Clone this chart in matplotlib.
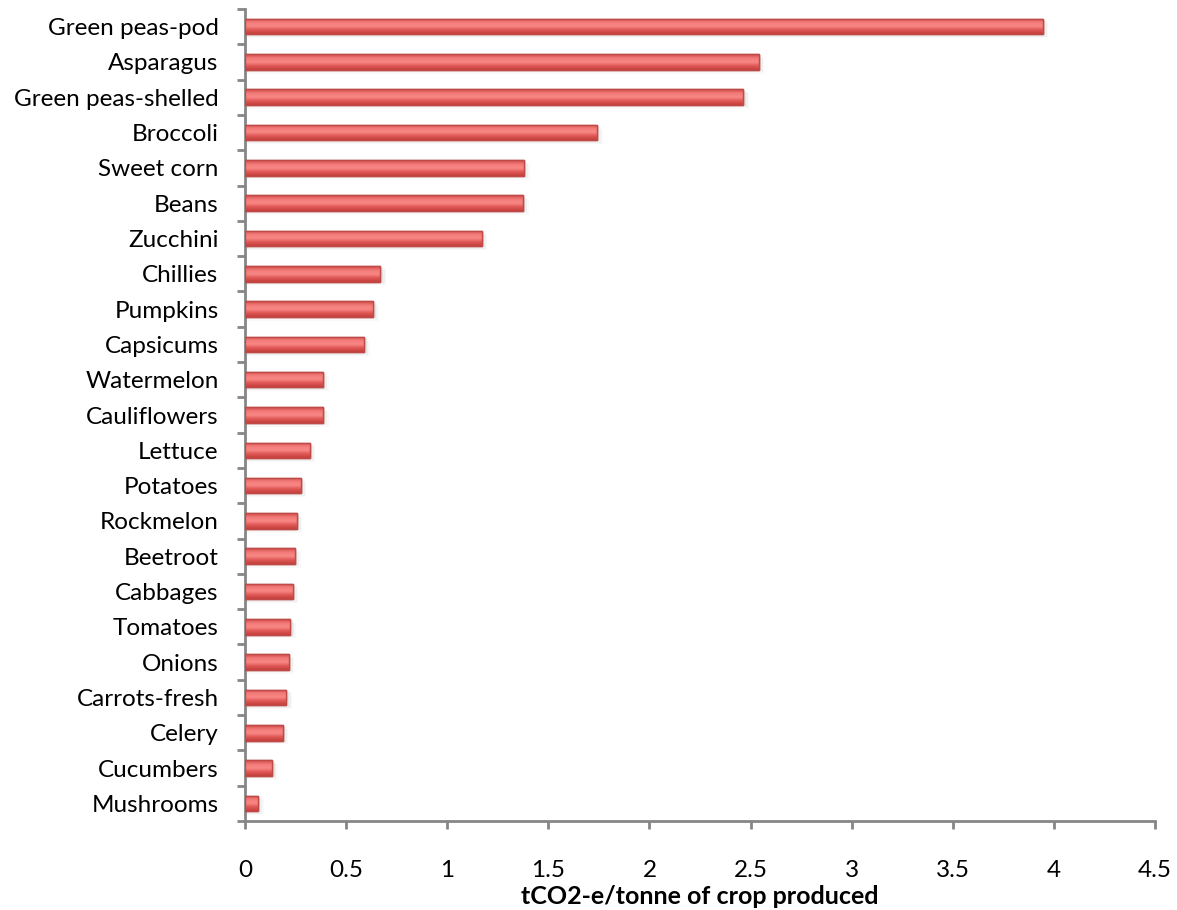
import numpy as np
import matplotlib.pyplot as plt
from matplotlib.colors import LinearSegmentedColormap

# crops, top to bottom as in the chart
crops = ["Green peas-pod", "Asparagus", "Green peas-shelled", "Broccoli",
         "Sweet corn", "Beans", "Zucchini", "Chillies", "Pumpkins",
         "Capsicums", "Watermelon", "Cauliflowers", "Lettuce", "Potatoes",
         "Rockmelon", "Beetroot", "Cabbages", "Tomatoes", "Onions",
         "Carrots-fresh", "Celery", "Cucumbers", "Mushrooms"]
emissions = [3.945, 2.54, 2.465, 1.74, 1.38, 1.375, 1.17, 0.67, 0.635,
             0.59, 0.386, 0.385, 0.32, 0.276, 0.256, 0.247, 0.236, 0.224,
             0.216, 0.205, 0.187, 0.134, 0.064]
xticks = [0, 0.5, 1, 1.5, 2, 2.5, 3, 3.5, 4, 4.5]

plt.rcParams['font.family'] = ['Lato', 'DejaVu Sans']

fig = plt.figure(figsize=(11.77, 9.10), dpi=100)
ax = fig.add_axes([245 / 1177, 1 - 821 / 910, 910 / 1177, 812 / 910])

n = len(crops)
ypos = np.arange(n)[::-1]
bar_h = 0.44

bars = ax.barh(ypos, emissions, height=bar_h, color='#D9534F',
               edgecolor='#BE4B48', linewidth=1.0, zorder=3)

# soft shadow under each bar
for b in bars:
    x0, y0 = b.get_x(), b.get_y()
    w, h = b.get_width(), b.get_height()
    for k, a in enumerate([0.10, 0.07, 0.04]):
        ax.add_patch(plt.Rectangle((x0, y0 - 0.03 - 0.04 * k), w + 0.012 + 0.008 * k,
                                   h, facecolor='#7f7f7f', alpha=a,
                                   edgecolor='none', zorder=2))

# vertical gradient fill (light top, darker bottom)
cmap = LinearSegmentedColormap.from_list(
    'redgrad', ['#C4403D', '#DE5754', '#F98886', '#F27A78', '#D04946'])
grad = np.linspace(0, 1, 64).reshape(-1, 1)
for b in bars:
    x0, y0 = b.get_x(), b.get_y()
    w, h = b.get_width(), b.get_height()
    im = ax.imshow(grad, cmap=cmap, aspect='auto', origin='lower',
                   extent=[x0, x0 + w, y0, y0 + h], zorder=3.5)
    im.set_clip_path(b)
    ax.add_patch(plt.Rectangle((x0, y0), w, h, fill=False,
                               edgecolor='#BE4B48', linewidth=1.0, zorder=4))

ax.set_xlim(0, 4.5)
ax.set_ylim(-0.5, n - 0.5)
ax.set_aspect('auto')

ax.set_xticks(xticks)
ax.set_xticklabels([f'{t:g}' for t in xticks])
ax.set_yticks(ypos)
ax.set_yticklabels(crops)
ax.set_yticks(np.arange(-0.5, n, 1.0), minor=True)

axis_col = '#868686'
for side in ['top', 'right']:
    ax.spines[side].set_visible(False)
for side in ['left', 'bottom']:
    ax.spines[side].set_color(axis_col)
    ax.spines[side].set_linewidth(2)

ax.tick_params(axis='y', which='major', length=0, pad=19, labelsize=17.5)
ax.tick_params(axis='y', which='minor', length=6, width=2, color=axis_col)
ax.tick_params(axis='x', which='major', length=6, width=2, color=axis_col,
               pad=22, labelsize=17.5)

ax.set_xlabel('tCO2-e/tonne of crop produced', fontsize=18,
              fontweight='bold', labelpad=3)

fig.savefig('out.png', dpi=100)
